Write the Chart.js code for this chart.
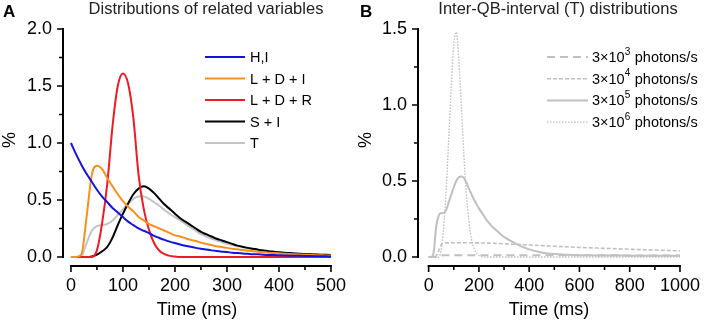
<!DOCTYPE html>
<html>
<head>
<meta charset="utf-8">
<script src="https://cdn.jsdelivr.net/npm/chart.js@4.4.1/dist/chart.umd.min.js"></script>
<style>
  body { margin: 0; background: #fff; }
  .wrap { position: relative; width: 709px; height: 321px; }
  canvas { position: absolute; top: 0; }
  #chartA { left: 0; }
  #chartB { left: 355px; }
</style>
</head>
<body>
<div class="wrap">
  <canvas id="chartA" width="355" height="321"></canvas>
  <canvas id="chartB" width="354" height="321"></canvas>
</div>
<script>
// ---- panel A: distributions of related variables ----
const timeA = [0,10,20,30,40,50,60,70,80,90,100,110,120,130,140,150,160,170,180,190,200,210,220,230,240,250,
  260,270,280,290,300,310,320,330,340,350,360,370,380,390,400,410,420,430,440,450,460,470,480,490,500];

const hiValues = [1.00,0.90,0.81,0.73,0.66,0.59,0.53,0.48,0.43,0.39,
  0.35,0.31,0.28,0.25,0.23,0.21,0.185,0.167,0.15,0.135,
  0.122,0.11,0.099,0.089,0.08,0.072,0.065,0.058,0.052,0.047,
  0.043,0.038,0.034,0.031,0.028,0.025,0.023,0.02,0.018,0.017,
  0.015,0.013,0.012,0.011,0.01,0.009,0.008,0.007,0.006,0.006,0.005];

const ldiValues = [0,0,0.02,0.35,0.72,0.80,0.77,0.69,0.62,0.55,
  0.49,0.44,0.40,0.35,0.32,0.29,0.27,0.25,0.23,0.21,
  0.19,0.18,0.165,0.15,0.14,0.125,0.115,0.105,0.095,0.088,
  0.08,0.073,0.067,0.061,0.055,0.05,0.046,0.042,0.038,0.035,
  0.032,0.029,0.026,0.024,0.022,0.02,0.018,0.016,0.015,0.014,0.013];

const ldrValues = [0,0,0,0,0,0.06,0.3,0.65,1.15,1.5,
  1.61,1.52,1.22,0.72,0.42,0.24,0.12,0.055,0.025,0.01,
  0.004,0,0,0,0,0,0,0,0,0,
  0,0,0,0,0,0,0,0,0,0,
  0,0,0,0,0,0,0,0,0,0,0];

const siValues = [0,0,0,0,0.005,0.02,0.05,0.09,0.17,0.28,
  0.38,0.47,0.55,0.60,0.62,0.60,0.56,0.51,0.46,0.42,
  0.38,0.34,0.31,0.28,0.25,0.22,0.2,0.18,0.16,0.145,
  0.13,0.115,0.1,0.09,0.08,0.072,0.064,0.057,0.051,0.046,
  0.041,0.037,0.034,0.031,0.028,0.026,0.024,0.022,0.02,0.019,0.018];

const tValues = [0,0,0.01,0.12,0.23,0.27,0.28,0.29,0.32,0.37,
  0.42,0.47,0.51,0.53,0.53,0.51,0.48,0.45,0.41,0.38,
  0.35,0.32,0.29,0.26,0.23,0.2,0.18,0.16,0.145,0.13,
  0.115,0.105,0.095,0.085,0.075,0.068,0.061,0.055,0.049,0.044,
  0.04,0.036,0.033,0.03,0.027,0.025,0.023,0.021,0.02,0.019,0.018];

const xTicksA = [0,100,200,300,400,500];
const xMinorA = [50,150,250,350,450];
const yTicksA = [0,0.5,1.0,1.5,2.0];
const yMinorA = [0.25,0.75,1.25,1.75];

// ---- panel B: inter-QB-interval (T) distributions ----
const timeB = [0,10,20,30,40,50,60,70,80,90,100,110,120,130,140,150,160,170,180,190,200,210,220,230,240,250,
  260,270,280,290,300,350,400,450,500,550,600,650,700,750,800,850,900,950,1000];

const rate3e3 = [0,0,0,0,0.005,0.01,0.012,
  0.012,0.012,0.012,0.012,0.012,0.012,0.012,0.012,0.012,0.012,0.012,0.012,
  0.012,0.012,0.012,0.012,0.012,0.012,0.012,0.012,0.012,0.012,0.012,0.012,
  0.012,0.012,0.012,0.012,0.011,0.011,0.011,0.011,0.011,0.01,0.01,0.01,0.01,0.01];

const rate3e4 = [0,0,0,0.01,0.04,0.08,0.09,0.092,0.093,0.094,
  0.094,0.094,0.094,0.094,0.094,0.094,0.094,0.093,0.093,0.093,0.093,
  0.092,0.092,0.091,0.091,0.09,0.09,0.089,0.089,0.088,0.087,
  0.083,0.079,0.075,0.071,0.067,0.063,0.06,0.057,0.054,0.051,0.048,0.046,0.043,0.041];

const rate3e5 = [0,0,0.03,0.2,0.27,0.29,0.29,0.31,0.36,0.41,
  0.46,0.5,0.525,0.53,0.52,0.49,0.45,0.415,0.38,0.35,
  0.32,0.295,0.27,0.245,0.225,0.205,0.19,0.175,0.16,0.145,0.132,
  0.085,0.05,0.03,0.02,0.015,0.012,0.011,0.01,0.01,0.009,0.009,0.009,0.008,0.008];

const rate3e6 = [0,0,0,0,0,0.05,0.2,0.45,0.78,1.12,
  1.4,1.48,1.3,1.0,0.68,0.42,0.24,0.12,0.06,0.025,
  0.01,0.003,0,0,0,0,0,0,0,0,0,
  0,0,0,0,0,0,0,0,0,0,0,0,0,0];

const xTicksB = [0,200,400,600,800,1000];
const xMinorB = [100,300,500,700,900];
const yTicksB = [0,0.5,1.0,1.5];
const yMinorB = [0.25,0.75,1.25];

const FONT = '"Liberation Sans", Arial, Helvetica, sans-serif';
Chart.defaults.font.family = FONT;
Chart.defaults.color = '#000';

const SUPERSCRIPTS = { '³': '3', '⁴': '4', '⁵': '5', '⁶': '6' };

const points = (xs, ys) => xs.map((x, i) => ({ x: x, y: ys[i] }));

// axis lines and tick marks, drawn detached like the original figure
const axesPlugin = {
  id: 'detachedAxes',
  afterDraw(chart, args, opts) {
    const { ctx, chartArea } = chart;
    const xs = chart.scales.x, ys = chart.scales.y;
    const left = chartArea.left, bottom = chartArea.bottom;
    ctx.save();
    ctx.strokeStyle = '#000';
    ctx.lineWidth = 2;
    ctx.lineCap = 'square';
    ctx.beginPath();
    ctx.moveTo(left, ys.getPixelForValue(opts.yTicks[0]));
    ctx.lineTo(left, ys.getPixelForValue(opts.yTicks[opts.yTicks.length - 1]));
    ctx.moveTo(xs.getPixelForValue(opts.xTicks[0]), bottom);
    ctx.lineTo(xs.getPixelForValue(opts.xTicks[opts.xTicks.length - 1]), bottom);
    ctx.stroke();
    ctx.lineCap = 'butt';
    ctx.lineWidth = 1.6;
    ctx.beginPath();
    opts.yTicks.forEach(v => { const p = ys.getPixelForValue(v); ctx.moveTo(left, p); ctx.lineTo(left - 6, p); });
    opts.yMinor.forEach(v => { const p = ys.getPixelForValue(v); ctx.moveTo(left, p); ctx.lineTo(left - 4, p); });
    opts.xTicks.forEach(v => { const p = xs.getPixelForValue(v); ctx.moveTo(p, bottom); ctx.lineTo(p, bottom + 6); });
    opts.xMinor.forEach(v => { const p = xs.getPixelForValue(v); ctx.moveTo(p, bottom); ctx.lineTo(p, bottom + 4); });
    ctx.stroke();
    ctx.restore();
  }
};

// legend label text, with superscript digits raised and smaller
const drawLabel = (ctx, text, x, y) => {
  let cx = x;
  for (const ch of text) {
    if (SUPERSCRIPTS[ch]) {
      ctx.font = '10px ' + FONT;
      ctx.fillText(SUPERSCRIPTS[ch], cx, y - 6);
      cx += ctx.measureText(SUPERSCRIPTS[ch]).width + 0.5;
    } else {
      ctx.font = '14.5px ' + FONT;
      ctx.fillText(ch, cx, y);
      cx += ctx.measureText(ch).width;
    }
  }
};

// panel letter, title, "%" label and the in-plot legend
const decorPlugin = {
  id: 'panelDecor',
  afterDraw(chart, args, opts) {
    const ctx = chart.ctx;
    ctx.save();
    ctx.fillStyle = '#000';
    ctx.textBaseline = 'alphabetic';
    ctx.textAlign = 'left';
    ctx.font = 'bold 17px ' + FONT;
    ctx.fillText(opts.letter, opts.letterX, 17);

    ctx.textAlign = 'center';
    ctx.font = '16.5px ' + FONT;
    ctx.fillStyle = '#222';
    ctx.fillText(opts.title, opts.titleX, 14);

    ctx.save();
    ctx.translate(opts.percentX, 140);
    ctx.rotate(-Math.PI / 2);
    ctx.fillStyle = '#000';
    ctx.font = '18px ' + FONT;
    ctx.textBaseline = 'middle';
    ctx.fillText('%', 0, 0);
    ctx.restore();

    ctx.textAlign = 'left';
    ctx.textBaseline = 'middle';
    chart.data.datasets.forEach((ds, i) => {
      const y = opts.legendY + i * opts.legendStep;
      ctx.save();
      ctx.strokeStyle = ds.borderColor;
      ctx.lineWidth = ds.borderWidth;
      ctx.setLineDash(ds.borderDash || []);
      ctx.beginPath();
      ctx.moveTo(opts.legendX0, y);
      ctx.lineTo(opts.legendX1, y);
      ctx.stroke();
      ctx.restore();
      ctx.fillStyle = '#000';
      drawLabel(ctx, ds.label, opts.legendText, y + 1);
    });
    ctx.restore();
  }
};

const makeOptions = (cfg) => ({
  responsive: false,
  animation: false,
  layout: { padding: { left: 0, right: cfg.padRight, top: 29, bottom: 0 } },
  elements: { point: { radius: 0 }, line: { cubicInterpolationMode: 'monotone' } },
  plugins: {
    legend: { display: false },
    tooltip: { enabled: false },
    detachedAxes: { xTicks: cfg.xTicks, xMinor: cfg.xMinor, yTicks: cfg.yTicks, yMinor: cfg.yMinor },
    panelDecor: cfg.decor
  },
  scales: {
    x: {
      type: 'linear',
      min: cfg.xMin,
      max: cfg.xTicks[cfg.xTicks.length - 1],
      grid: { display: false, drawTicks: false },
      border: { display: false },
      afterBuildTicks: s => { s.ticks = cfg.xTicks.map(v => ({ value: v })); },
      afterFit: s => { s.height = 55; },
      ticks: { font: { size: 18 }, padding: 9, maxRotation: 0, autoSkip: false, callback: v => String(v) },
      title: { display: true, text: 'Time (ms)', font: { size: 18 }, padding: { top: 0, bottom: 0 } }
    },
    y: {
      type: 'linear',
      min: cfg.yMin,
      max: cfg.yTicks[cfg.yTicks.length - 1],
      grid: { display: false, drawTicks: false },
      border: { display: false },
      afterBuildTicks: s => { s.ticks = cfg.yTicks.map(v => ({ value: v })); },
      afterFit: s => { s.width = 63; },
      ticks: { font: { size: 18 }, padding: 11, callback: v => v.toFixed(1) }
    }
  }
});

new Chart(document.getElementById('chartA').getContext('2d'), {
  type: 'line',
  data: {
    datasets: [
      { label: 'H,I', data: points(timeA, hiValues), borderColor: '#1414d8', borderWidth: 2 },
      { label: 'L + D + I', data: points(timeA, ldiValues), borderColor: '#f7901e', borderWidth: 2 },
      { label: 'L + D + R', data: points(timeA, ldrValues), borderColor: '#ec1c24', borderWidth: 2 },
      { label: 'S + I', data: points(timeA, siValues), borderColor: '#000000', borderWidth: 2 },
      { label: 'T', data: points(timeA, tValues), borderColor: '#c4c4c4', borderWidth: 2 }
    ]
  },
  options: makeOptions({
    padRight: 23, xMin: -15.3, yMin: -0.079,
    xTicks: xTicksA, xMinor: xMinorA, yTicks: yTicksA, yMinor: yMinorA,
    decor: {
      letter: 'A', letterX: 3, title: 'Distributions of related variables', titleX: 206,
      percentX: 10, legendX0: 205, legendX1: 245, legendText: 250, legendY: 57, legendStep: 21.5
    }
  }),
  plugins: [axesPlugin, decorPlugin]
});

new Chart(document.getElementById('chartB').getContext('2d'), {
  type: 'line',
  data: {
    datasets: [
      { label: '3×10³ photons/s', data: points(timeB, rate3e3), borderColor: '#c0c0c0', borderWidth: 2, borderDash: [8, 5] },
      { label: '3×10⁴ photons/s', data: points(timeB, rate3e4), borderColor: '#c0c0c0', borderWidth: 1.6, borderDash: [4, 2] },
      { label: '3×10⁵ photons/s', data: points(timeB, rate3e5), borderColor: '#c0c0c0', borderWidth: 2 },
      { label: '3×10⁶ photons/s', data: points(timeB, rate3e6), borderColor: '#c0c0c0', borderWidth: 1.4, borderDash: [1.5, 1.5] }
    ]
  },
  options: makeOptions({
    padRight: 20, xMin: -42.3, yMin: -0.0592,
    xTicks: xTicksB, xMinor: xMinorB, yTicks: yTicksB, yMinor: yMinorB,
    decor: {
      letter: 'B', letterX: 5, title: 'Inter-QB-interval (T) distributions', titleX: 203,
      percentX: 11, legendX0: 192, legendX1: 233, legendText: 237, legendY: 57, legendStep: 21.7
    }
  }),
  plugins: [axesPlugin, decorPlugin]
});
</script>
</body>
</html>
